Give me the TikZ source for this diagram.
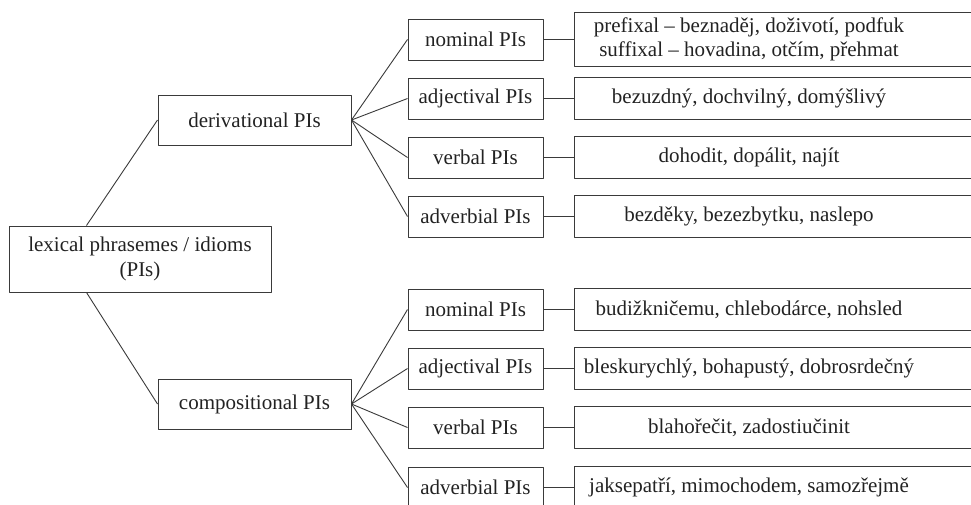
\documentclass[tikz,border=0pt]{standalone}
\usepackage{fontspec}
\setmainfont{Liberation Serif}
\definecolor{linegray}{HTML}{3A3A3A}
\definecolor{textgray}{HTML}{222222}
\begin{document}
\begin{tikzpicture}[x=1pt,y=-1pt,line join=round,font=\fontsize{21}{23.5}\selectfont,
		box/.style={draw=linegray,line width=1pt,text=textgray,inner sep=0pt,minimum height=41pt},
		leaf/.style={text=textgray,inner sep=0pt,minimum width=348pt,align=center},
		conn/.style={draw=linegray,line width=0.9pt}]
	\useasboundingbox (0,0) rectangle (971,504);
	\clip (0,0) rectangle (971,504);
	\node[box,minimum width=262pt,minimum height=66pt,align=center] (root) at (140,259) {lexical phrasemes / idioms\\[1pt](PIs)};
	\node[box,minimum width=193pt,minimum height=50pt] (der) at (254.5,120) {derivational PIs};
	\node[box,minimum width=193pt,minimum height=50pt] (com) at (254.5,404) {compositional PIs};
	\draw[conn] ([xshift=78pt]root.north west) -- (der.west);
	\draw[conn] ([xshift=78pt]root.south west) -- (com.west);
	% types and examples
	\foreach \n/\p/\y/\h/\t/\ex in {
			dn/der/39.5/54/nominal PIs/{prefixal -- beznaděj, doživotí, podfuk\\suffixal -- hovadina, otčím, přehmat},
			da/der/98.5/41/adjectival PIs/{bezuzdný, dochvilný, domýšlivý},
			dv/der/157.5/41/verbal PIs/{dohodit, dopálit, najít},
			dd/der/216.5/41/adverbial PIs/{bezděky, bezezbytku, naslepo},
			cn/com/309.5/41/nominal PIs/{budižkničemu, chlebodárce, nohsled},
			ca/com/368.5/41/adjectival PIs/{bleskurychlý, bohapustý, dobrosrdečný},
			cv/com/427.5/41/verbal PIs/{blahořečit, zadostiučinit},
			cd/com/487.5/41/adverbial PIs/{jaksepatří, mimochodem, samozřejmě}}
		{
			\node[box,minimum width=135pt] (\n) at (475.5,\y) {\t};
			\draw[conn] (\p.east) -- (\n.west);
			\node[leaf,minimum height=\h pt] (ex\n) at (749,\y) {\ex};
			\draw[conn] (\n.east) -- (ex\n.west);
			\draw[draw=linegray,line width=1pt] (ex\n.north west) rectangle ([xshift=70pt]ex\n.south east);
		}
\end{tikzpicture}
\end{document}
